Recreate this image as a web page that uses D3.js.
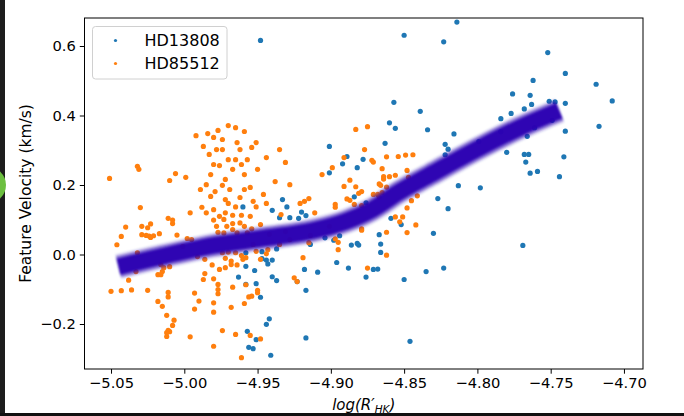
<!DOCTYPE html>
<meta charset="utf-8">
<head>
  <title>Feature velocity vs activity</title>
  <script src="https://d3js.org/d3.v7.min.js"></script>
  <style>
    body { margin: 0; background: #fff; }
    svg { display: block; font-family: "DejaVu Sans", sans-serif; }
    .axis path, .axis line { stroke: #000; }
    .axis text { font-size: 14.7px; fill: #000; font-family: "DejaVu Sans", sans-serif; }
  </style>
</head>
<body>
<svg width="684" height="416"></svg>
<script>
// ---- data ----
var xTicks = [-5.05, -5.00, -4.95, -4.90, -4.85, -4.80, -4.75, -4.70];
var yTicks = [-0.2, 0.0, 0.2, 0.4, 0.6];
var seriesNames = ["HD13808", "HD85512"];

var hd13808X = [-4.948,-4.850,-4.823,-4.814,-4.857,-4.839,-4.776,-4.777,-4.768,-4.784,-4.762,-4.764,-4.763,-4.751,-4.747,-4.740,-4.719,-4.708,-4.717,-4.749,
  -4.740,-4.761,-4.860,-4.856,-4.834,-4.816,-4.863,-4.822,-4.820,-4.822,-4.799,-4.784,-4.766,-4.768,-4.765,-4.767,-4.780,-4.741,-4.764,-4.759,
  -4.744,-4.901,-4.889,-4.892,-4.878,-4.882,-4.901,-4.813,-4.798,-4.827,-4.820,-4.884,-4.876,-4.859,-4.852,-4.830,-4.867,-4.898,-4.894,-4.886,
  -4.882,-4.881,-4.866,-4.866,-4.769,-4.896,-4.888,-4.871,-4.868,-4.835,-4.823,-4.876,-4.850,-4.960,-4.940,-4.930,-4.933,-4.920,-4.917,-4.922,
  -4.935,-4.928,-4.904,-4.914,-4.937,-4.947,-4.947,-4.944,-4.940,-4.943,-4.958,-4.958,-4.952,-4.963,-4.940,-4.937,-4.918,-4.909,-4.923,-4.917,
  -4.951,-4.958,-4.948,-4.942,-4.944,-4.917,-4.957,-4.951,-4.956,-4.953,-4.941,-4.846,-4.752,-4.740];
var hd13808Y = [0.616,0.631,0.612,0.669,0.438,0.412,0.462,0.406,0.419,0.391,0.501,0.458,0.432,0.441,0.439,0.435,0.490,0.442,0.369,0.386,
  0.355,0.365,0.379,0.363,0.359,0.347,0.320,0.317,0.303,0.287,0.325,0.353,0.340,0.288,0.288,0.266,0.294,0.281,0.234,0.239,
  0.224,0.311,0.282,0.261,0.274,0.250,0.235,0.198,0.192,0.161,0.132,0.166,0.149,0.104,0.086,0.061,0.057,0.041,0.054,0.027,
  0.032,0.027,0.030,0.006,0.026,-0.023,-0.039,-0.043,-0.042,-0.049,-0.039,-0.065,-0.072,0.137,0.127,0.137,0.158,0.122,0.112,0.104,
  0.106,0.106,0.048,0.029,0.016,0.008,-0.012,-0.016,-0.016,-0.027,0.005,-0.034,-0.046,-0.065,-0.064,-0.075,-0.043,-0.051,-0.078,-0.103,
  -0.084,-0.086,-0.123,-0.185,-0.201,-0.240,-0.221,-0.245,-0.267,-0.271,-0.290,-0.250,0.581,0.521];

var hd85512X = [-5.051,-5.050,-5.046,-5.043,-5.043,-5.040,-5.038,-5.036,-5.033,-5.032,-5.032,-5.031,-5.030,-5.029,-5.029,-5.026,-5.025,-5.025,-5.023,-5.024,
  -5.023,-5.021,-5.017,-5.018,-5.018,-5.016,-5.016,-5.015,-5.015,-5.014,-5.011,-5.012,-5.011,-5.011,-5.011,-5.010,-5.010,-5.012,-5.012,-5.008,
  -5.008,-5.008,-5.007,-5.006,-5.005,-5.010,-4.999,-4.998,-4.996,-4.996,-4.995,-4.993,-4.993,-4.990,-4.980,-4.974,-4.965,-4.961,-4.955,-4.948,
  -4.980,-4.980,-4.968,-4.959,-4.956,-4.954,-4.950,-4.950,-4.977,-4.977,-4.977,-4.967,-4.958,-4.987,-4.980,-4.986,-4.981,-4.976,-4.972,-4.968,
  -4.964,-4.960,-4.961,-4.958,-4.968,-4.972,-4.986,-4.974,-4.970,-4.965,-4.953,-4.951,-4.948,-4.944,-4.943,-4.925,-4.923,-4.919,-4.915,-4.914,
  -4.921,-4.918,-4.915,-4.911,-4.934,-4.944,-4.953,-4.951,-4.965,-4.970,-4.972,-4.976,-4.980,-4.978,-4.973,-4.977,-4.971,-4.967,-4.962,-4.959,
  -4.967,-4.964,-4.957,-4.954,-4.948,-4.955,-4.961,-4.967,-4.973,-4.985,-4.988,-4.980,-4.970,-4.977,-4.965,-4.980,-4.984,-4.992,-4.987,-4.959,
  -4.951,-4.983,-4.974,-4.970,-4.962,-4.957,-4.976,-4.967,-4.959,-4.982,-4.972,-4.950,-4.955,-4.969,-4.979,-4.946,-4.962,-4.985,-4.989,-4.935,
  -4.931,-4.938,-4.928,-4.974,-4.964,-4.978,-4.965,-4.974,-4.959,-4.982,-4.972,-4.954,-4.944,-4.961,-4.980,-4.883,-4.875,-4.877,-4.872,-4.871,
  -4.862,-4.854,-4.849,-4.844,-4.865,-4.864,-4.864,-4.860,-4.856,-4.848,-4.847,-4.887,-4.891,-4.883,-4.879,-4.881,-4.867,-4.866,-4.862,-4.871,
  -4.868,-4.865,-4.867,-4.889,-4.887,-4.884,-4.879,-4.897,-4.897,-4.848,-4.845,-4.841,-4.856,-4.851,-4.853,-4.842,-4.848,-4.862,-4.862,-4.879,
  -4.879,-4.897,-4.895,-4.895,-4.875,-4.901,-4.906,-4.899,-4.891,-4.935,-4.928,-4.942,-4.931,-4.991,-5.001];
var hd85512Y = [0.219,-0.106,0.028,0.052,-0.104,0.079,-0.074,-0.102,-0.049,0.005,0.254,0.245,0.135,0.081,0.057,0.055,0.077,-0.103,0.088,0.053,
  0.049,0.054,0.060,-0.058,-0.135,-0.029,-0.058,-0.049,-0.149,-0.038,0.104,-0.175,-0.109,-0.122,-0.218,-0.035,-0.222,-0.225,-0.236,0.089,
  -0.204,0.099,-0.189,0.233,0.056,0.213,0.222,0.046,0.120,-0.237,0.043,-0.111,-0.157,-0.134,-0.264,-0.219,-0.230,-0.297,-0.233,-0.243,
  -0.166,-0.139,-0.152,-0.141,-0.122,-0.120,-0.110,-0.103,-0.113,-0.101,-0.086,-0.094,-0.087,-0.072,-0.070,-0.055,-0.030,-0.043,-0.038,-0.029,
  -0.030,-0.014,-0.003,-0.009,-0.019,-0.011,-0.014,0.005,0.007,0.005,0.029,0.009,-0.014,0.002,0.014,-0.067,-0.078,-0.009,0.034,0.055,
  0.147,0.153,0.161,0.120,0.115,0.147,0.153,0.137,0.137,0.147,0.120,0.110,0.099,0.081,0.062,0.064,0.081,0.089,0.091,0.081,
  0.072,0.062,0.062,0.074,0.086,0.110,0.113,0.113,0.101,0.120,0.136,0.129,0.371,0.357,0.365,0.337,0.348,0.342,0.311,0.354,
  0.322,0.288,0.302,0.273,0.302,0.273,0.256,0.245,0.230,0.230,0.216,0.245,0.193,0.187,0.181,0.173,0.164,0.201,0.187,0.302,
  0.265,0.210,0.201,0.331,0.322,0.302,0.273,0.199,0.187,0.167,0.158,0.308,0.279,0.259,0.259,0.360,0.368,0.302,0.271,0.266,
  0.281,0.282,0.286,0.287,0.247,0.224,0.217,0.224,0.228,0.242,0.222,0.214,0.196,0.195,0.181,0.176,0.203,0.199,0.194,0.173,
  0.173,0.178,0.166,0.160,0.156,0.144,0.141,0.144,0.136,0.134,0.155,0.169,0.108,0.108,0.094,0.085,0.063,0.064,-0.002,0.074,
  0.070,0.045,0.035,0.014,-0.039,0.081,0.230,0.250,0.279,0.029,0.043,0.058,0.066,-0.006,0.023];

// centre line of the fitted band
var bandX = [-5.045, -5.017, -4.980, -4.946, -4.912, -4.890, -4.872, -4.853, -4.832, -4.798, -4.771, -4.744];
var bandY = [-0.035, -0.007, 0.026, 0.047, 0.069, 0.095, 0.129, 0.181, 0.230, 0.308, 0.365, 0.414];

// ---- layout ----
var svg = d3.select("svg");
var margin = {left: 84.5, top: 18, right: 41, bottom: 47};
var width = 684 - margin.left - margin.right,
    height = 416 - margin.top - margin.bottom;

// screen chrome at the left/bottom edge
svg.append("rect").attr("x", 0).attr("y", 0).attr("width", 5).attr("height", 416).attr("fill", "#1d1d1d");
svg.append("rect").attr("x", 0).attr("y", 413).attr("width", 684).attr("height", 3).attr("fill", "#111");
svg.append("circle").attr("cx", -12).attr("cy", 185).attr("r", 18).attr("fill", "#6cbf40");

var g = svg.append("g").attr("transform", "translate(" + margin.left + "," + margin.top + ")");

var x = d3.scaleLinear().domain([-5.0681, -4.6870]).range([0, width]);
var y = d3.scaleLinear().domain([-0.3295, 0.6806]).range([height, 0]);

var fmt = function(d) { return d3.format(".2f")(d).replace("-", "\u2212"); };
var fmtY = function(d) { return d3.format(".1f")(d).replace("-", "\u2212"); };

// scatter
var blue = d3.zip(hd13808X, hd13808Y), orange = d3.zip(hd85512X, hd85512Y);

g.append("g").selectAll("circle").data(blue).enter().append("circle")
  .attr("cx", function(d) { return x(d[0]); })
  .attr("cy", function(d) { return y(d[1]); })
  .attr("r", 2.6).attr("fill", "#1f77b4");

g.append("g").selectAll("circle").data(orange).enter().append("circle")
  .attr("cx", function(d) { return x(d[0]); })
  .attr("cy", function(d) { return y(d[1]); })
  .attr("r", 2.6).attr("fill", "#ff7f0e");

// band
var defs = svg.append("defs");
defs.append("filter").attr("id", "fuzz").attr("x", "-10%").attr("y", "-10%").attr("width", "120%").attr("height", "120%")
  .append("feGaussianBlur").attr("stdDeviation", 1.3);

var bandLine = d3.line().x(function(d) { return x(d[0]); }).y(function(d) { return y(d[1]); }).curve(d3.curveMonotoneX);
var band = g.append("g").attr("filter", "url(#fuzz)");
[[25, 0.2], [21, 0.5], [16, 0.95]].forEach(function(s) {
  band.append("path").datum(d3.zip(bandX, bandY))
    .attr("d", bandLine)
    .attr("fill", "none")
    .attr("stroke", "#2a02b2")
    .attr("stroke-width", s[0])
    .attr("stroke-opacity", s[1])
    .attr("stroke-linejoin", "round");
});

// axes
var xAxis = g.append("g").attr("class", "axis").attr("transform", "translate(0," + height + ")")
  .call(d3.axisBottom(x).tickValues(xTicks).tickFormat(fmt).tickSize(4.7).tickSizeOuter(0).tickPadding(4));
var yAxis = g.append("g").attr("class", "axis")
  .call(d3.axisLeft(y).tickValues(yTicks).tickFormat(fmtY).tickSize(4.7).tickSizeOuter(0).tickPadding(4));
xAxis.select(".domain").remove();
yAxis.select(".domain").remove();

g.append("rect").attr("x", 0).attr("y", 0).attr("width", width).attr("height", height)
  .attr("fill", "none").attr("stroke", "#000").attr("stroke-width", 1);

// axis labels
svg.append("text")
  .attr("transform", "translate(31," + (margin.top + height / 2) + ") rotate(-90)")
  .attr("text-anchor", "middle")
  .style("font-size", "15.5px")
  .text("Feature Velocity (km/s)");

var xl = svg.append("text")
  .attr("x", margin.left + width / 2).attr("y", 410)
  .attr("text-anchor", "middle")
  .style("font-size", "15px").style("font-style", "italic");
xl.append("tspan").text("log(R\u2032");
xl.append("tspan").attr("baseline-shift", "-25%").style("font-size", "10.5px").text("HK");
xl.append("tspan").text(")");

// legend
var leg = g.append("g").attr("transform", "translate(8,8.5)");
leg.append("rect").attr("width", 134.5).attr("height", 52.5).attr("rx", 3)
  .attr("fill", "#fff").attr("fill-opacity", 0.8).attr("stroke", "#d0d0d0");
seriesNames.forEach(function(name, i) {
  var row = leg.append("g").attr("transform", "translate(0," + (14 + i * 23) + ")");
  row.append("circle").attr("cx", 23).attr("cy", 0).attr("r", 1.6).attr("fill", i ? "#ff7f0e" : "#1f77b4");
  row.append("text").attr("x", 52).attr("y", 0).attr("dy", "0.36em").style("font-size", "16px").text(name);
});
</script>
</body>
